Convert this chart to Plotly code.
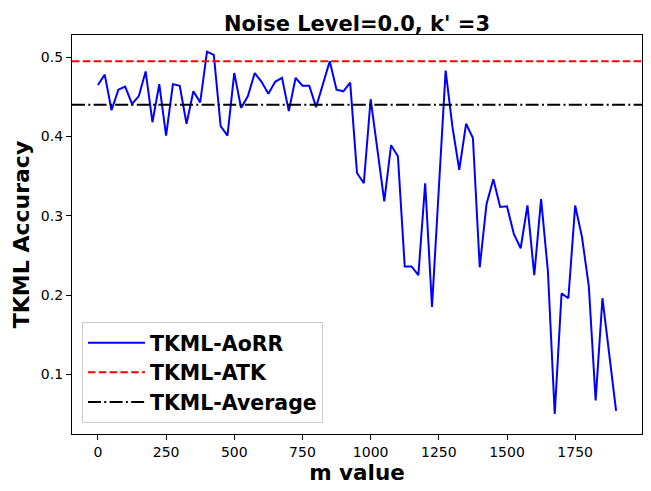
import plotly.graph_objects as go

# m values on the x axis (step of 25)
m_values = list(range(0, 1925, 25))

# TKML-AoRR accuracy
aorr_acc = [
    0.465, 0.478, 0.433, 0.459, 0.463, 0.441, 0.451, 0.482, 0.418, 0.466,
    0.401, 0.466, 0.464, 0.416, 0.457, 0.443, 0.507, 0.503, 0.413, 0.401,
    0.480, 0.436, 0.451, 0.480, 0.469, 0.454, 0.469, 0.474, 0.432, 0.474,
    0.464, 0.464, 0.437, 0.466, 0.495, 0.459, 0.457, 0.468, 0.354, 0.341,
    0.447, 0.383, 0.318, 0.389, 0.375, 0.236, 0.236, 0.225, 0.341, 0.185,
    0.330, 0.483, 0.412, 0.358, 0.416, 0.398, 0.235, 0.315, 0.346, 0.311,
    0.312, 0.277, 0.259, 0.313, 0.225, 0.321, 0.230, 0.050, 0.202, 0.196,
    0.313, 0.273, 0.211, 0.067, 0.196, 0.125, 0.054,
]

atk_acc = 0.495
average_acc = 0.440

title_text = "Noise Level=0.0, k' =3"
font_family = "DejaVu Sans"

fig = go.Figure()

fig.add_trace(go.Scatter(
    x=m_values, y=aorr_acc, mode="lines", name="TKML-AoRR",
    line=dict(color="#0000ff", width=2), legendrank=1,
))

# horizontal reference lines spanning the whole axes
fig.add_shape(
    type="line", xref="x domain", x0=0, x1=1, yref="y", y0=atk_acc, y1=atk_acc,
    line=dict(color="#ff0000", width=2, dash="7.5px,3.3px"),
    name="TKML-ATK", showlegend=True, legendrank=2,
)
fig.add_shape(
    type="line", xref="x domain", x0=0, x1=1, yref="y", y0=average_acc, y1=average_acc,
    line=dict(color="#000000", width=2, dash="13px,3.3px,2px,3.3px"),
    name="TKML-Average", showlegend=True, legendrank=3,
)

axis_common = dict(
    showline=True, linecolor="black", linewidth=1.2, mirror=True,
    ticks="outside", ticklen=5, tickwidth=1.2, tickcolor="black",
    showgrid=False, zeroline=False,
    tickfont=dict(family=font_family, size=14, color="black"),
)

fig.update_xaxes(
    range=[-95, 1995], tickvals=[0, 250, 500, 750, 1000, 1250, 1500, 1750],
    title=dict(text="m value", standoff=4,
               font=dict(family=font_family, size=21.5, color="black", weight="bold")),
    **axis_common,
)
fig.update_yaxes(
    range=[0.0247, 0.528], tickvals=[0.1, 0.2, 0.3, 0.4, 0.5],
    tickformat=".1f",
    title=dict(text="TKML Accuracy", standoff=5,
               font=dict(family=font_family, size=22, color="black", weight="bold")),
    **axis_common,
)

fig.update_layout(
    width=651, height=491,
    margin=dict(l=72, r=9, t=35, b=57, autoexpand=False),
    paper_bgcolor="white", plot_bgcolor="white",
    title=dict(text=title_text, x=0.5, xref="paper", xanchor="center",
               y=1 - 24 / 491, yref="container", yanchor="middle",
               font=dict(family=font_family, size=21, color="black", weight="bold")),
    legend=dict(
        x=0.0175, y=0.028, xanchor="left", yanchor="bottom",
        bgcolor="rgba(255,255,255,0.8)", bordercolor="#cccccc", borderwidth=1,
        font=dict(family=font_family, size=20.5, color="black", weight="bold"),
        itemwidth=57, tracegroupgap=0,
    ),
    showlegend=True,
)

# drop the default page margin so the figure sits at the window's top-left corner
fig.write_html("out.html", config={"displayModeBar": False},
               post_script="document.body.style.margin='0';")
